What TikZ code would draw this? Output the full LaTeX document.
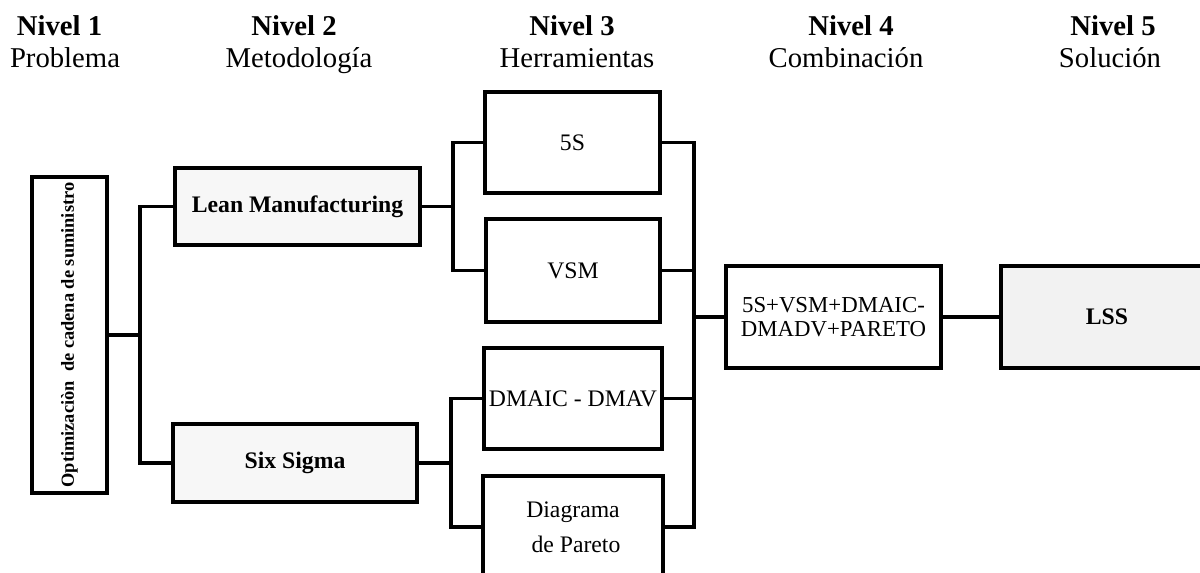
\documentclass[tikz,border=0pt]{standalone}
\usepackage{fontspec}
\setmainfont{Liberation Serif}
\begin{document}
\begin{tikzpicture}[x=0.5pt,y=-0.5pt,
  box/.style={draw=black, line width=1.6pt, rectangle, inner sep=0pt,
    font=\fontsize{11.85}{14}\selectfont, align=center},
  graybox/.style={box, fill=black!3},
  link/.style={draw=black, line width=1.6pt},
  head/.style={anchor=base, inner sep=0pt, font=\fontsize{14.35}{17}\selectfont}]
\clip (0,0) rectangle (1200,573);
\fill[white] (0,0) rectangle (1200,573);

% column headings
\node[head] (h1a) at (59.5,35) {\textbf{Nivel 1}};
\node[head] (h1b) at (65,67) {Problema};
\node[head] (h2a) at (294,35) {\textbf{Nivel 2}};
\node[head] (h2b) at (299,67) {Metodología};
\node[head] (h3a) at (572,35) {\textbf{Nivel 3}};
\node[head] (h3b) at (577,67) {Herramientas};
\node[head] (h4a) at (851,35) {\textbf{Nivel 4}};
\node[head] (h4b) at (846,67) {Combinación};
\node[head] (h5a) at (1113,35) {\textbf{Nivel 5}};
\node[head] (h5b) at (1110,67) {Solución};

% level 1: problem
\node[box, minimum width=37.5pt, minimum height=158pt] (prob) at (69.5,335) {};
\node[rotate=90, inner sep=0pt, font=\fontsize{9.2}{11}\selectfont\bfseries] (probtxt) at (prob.center) {Optimizaciòn~~de cadena de suministro};

% level 2: methodologies
\node[graybox, minimum width=122.5pt, minimum height=38.5pt, font=\fontsize{11.85}{14}\selectfont\bfseries] (lean) at (297.5,206.5) {Lean Manufacturing};
\node[graybox, minimum width=122pt, minimum height=39pt, font=\fontsize{11.85}{14}\selectfont\bfseries] (six) at (295,463) {Six Sigma};

% level 3: tools
\node[box, minimum width=87.5pt, minimum height=50.5pt] (s5) at (572.5,142.5) {5S};
\node[box, minimum width=87pt, minimum height=51.5pt] (vsm) at (573,270.5) {VSM};
\node[box, minimum width=89pt, minimum height=50.5pt] (dmaic) at (573,398.5) {DMAIC - DMAV};
\node[box, minimum width=90pt, minimum height=51pt, font=\fontsize{11.85}{17.5}\selectfont] (pareto) at (573,527) {Diagrama\\\ de Pareto};

% level 4: combination
\node[box, minimum width=107.5pt, minimum height=51pt, font=\fontsize{11.4}{12}\selectfont] (combo) at (833.5,317) {5S+VSM+DMAIC-\\DMADV+PARETO};

% level 5: solution
\node[graybox, fill=black!5, minimum width=106pt, minimum height=51pt, font=\fontsize{11.85}{14}\selectfont\bfseries] (lss) at (1107,317) {LSS};

% junction points
\coordinate (j1) at (140,335);
\coordinate (j2) at (453,206.5);
\coordinate (j3) at (451,463);
\coordinate (j4) at (694,317);

% connectors
\draw[link] (prob.east) -- (j1);
\draw[link] (lean.west) -| (j1) |- (six.west);
\draw[link] (lean.east) -- (j2);
\draw[link] (s5.west) -| (j2) |- (vsm.west);
\draw[link] (six.east) -- (j3);
\draw[link] (dmaic.west) -| (j3) |- (pareto.west);
\draw[link] (s5.east) -| (j4);
\draw[link] (vsm.east) -| (j4);
\draw[link] (dmaic.east) -| (j4);
\draw[link] (pareto.east) -| (j4);
\draw[link] (j4) -- (combo.west);
\draw[link] (combo.east) -- (lss.west);
\end{tikzpicture}
\end{document}
